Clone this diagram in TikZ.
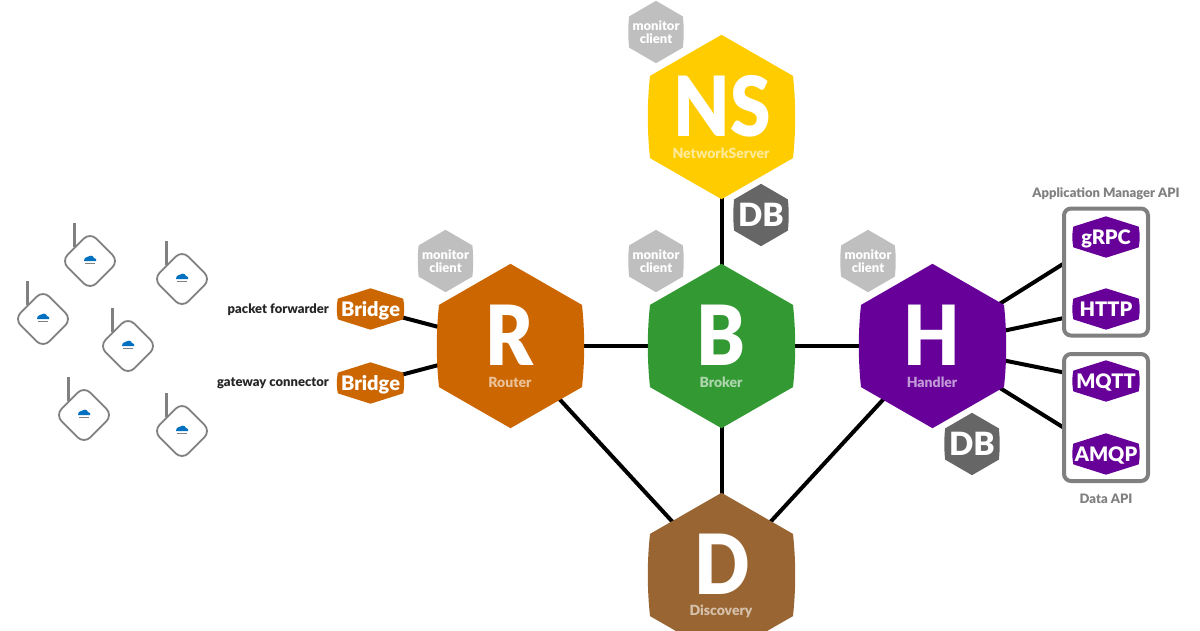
\documentclass[tikz,border=0pt]{standalone}
\usepackage{fontspec}
\setmainfont{Lato}[BoldFont=Lato Black]
\usetikzlibrary{backgrounds}
\definecolor{routerorange}{HTML}{CC6600}
\definecolor{brokergreen}{HTML}{339933}
\definecolor{handlerpurple}{HTML}{660099}
\definecolor{serveryellow}{HTML}{FFCC00}
\definecolor{discobrown}{HTML}{996633}
\definecolor{monitorgray}{HTML}{BFBFBF}
\definecolor{dbgray}{HTML}{666666}
\definecolor{boxgray}{HTML}{808080}
\definecolor{cloudblue}{HTML}{0070C0}
% hexagon with slightly bulging flanks
\newdimen\hexcx \newdimen\hexcy \newdimen\hexhw \newdimen\hexhh
\makeatletter
\pgfdeclareshape{hexa}{
  \inheritsavedanchors[from=rectangle]
  \inheritanchorborder[from=rectangle]
  \inheritanchor[from=rectangle]{center}
  \backgroundpath{
    \northeast \hexcx=\pgf@x \hexcy=\pgf@y
    \southwest
    \hexhw=\dimexpr(\hexcx-\pgf@x)/2\relax
    \hexhh=\dimexpr(\hexcy-\pgf@y)/2\relax
    \advance\hexcx by -\hexhw
    \advance\hexcy by -\hexhh
    \pgfpathmoveto{\pgfpointadd{\pgfqpoint{\hexcx}{\hexcy}}{\pgfqpoint{0pt}{\hexhh}}}
    \pgfpathlineto{\pgfpointadd{\pgfqpoint{\hexcx}{\hexcy}}{\pgfqpoint{0.97\hexhw}{0.5\hexhh}}}
    \pgfpathquadraticcurveto{\pgfpointadd{\pgfqpoint{\hexcx}{\hexcy}}{\pgfqpoint{1.03\hexhw}{0pt}}}{\pgfpointadd{\pgfqpoint{\hexcx}{\hexcy}}{\pgfqpoint{0.97\hexhw}{-0.5\hexhh}}}
    \pgfpathlineto{\pgfpointadd{\pgfqpoint{\hexcx}{\hexcy}}{\pgfqpoint{0pt}{-\hexhh}}}
    \pgfpathlineto{\pgfpointadd{\pgfqpoint{\hexcx}{\hexcy}}{\pgfqpoint{-0.97\hexhw}{-0.5\hexhh}}}
    \pgfpathquadraticcurveto{\pgfpointadd{\pgfqpoint{\hexcx}{\hexcy}}{\pgfqpoint{-1.03\hexhw}{0pt}}}{\pgfpointadd{\pgfqpoint{\hexcx}{\hexcy}}{\pgfqpoint{-0.97\hexhw}{0.5\hexhh}}}
    \pgfpathclose
  }
}
\makeatother
\tikzset{
  hexbase/.style={shape=hexa, inner sep=0pt, text=white, font=\bfseries},
  bighex/.style={hexbase, minimum width=147pt, minimum height=164pt, fill=#1},
  smallhex/.style={hexbase, minimum width=67pt, minimum height=41pt, fill=#1, text height=14pt, text depth=0pt, font=\bfseries\fontsize{20}{20}\selectfont},
  monitorhex/.style={hexbase, minimum width=55pt, minimum height=62pt, fill=monitorgray, align=center, font=\bfseries\fontsize{13}{12.5}\selectfont},
  dbhex/.style={hexbase, minimum width=55pt, minimum height=62pt, fill=dbgray, font=\bfseries\fontsize{32}{32}\selectfont},
  bigletter/.style={inner sep=0pt, text=white, xscale=0.88, transform shape, font=\bfseries\fontsize{#1}{#1}\selectfont},
  sublabel/.style={inner sep=0pt, text=white, text opacity=0.6, font=\bfseries\fontsize{14}{14}\selectfont},
  sidelabel/.style={anchor=east, inner sep=0pt, text=black!85, font=\bfseries\fontsize{13}{13}\selectfont},
  apibox/.style={draw=boxgray, fill=white, line width=4pt, rounded corners=7pt, minimum width=84pt, minimum height=#1, inner sep=0pt},
  apilabel/.style={inner sep=0pt, text=boxgray, font=\bfseries\fontsize{13}{13}\selectfont},
  link/.style={line width=4pt, black},
  gateway/.pic={
    \draw[boxgray, line width=3pt] (-16,-14) -- (-16,-38);
    \draw[boxgray, fill=white, line width=1.8pt, rotate=45, rounded corners=9pt] (-20.3,-20.3) rectangle (20.3,20.3);
    \fill[cloudblue] (-6,0) .. controls (-7,-3) and (-4,-3) .. (-3,-4) .. controls (-1,-6) and (3,-6) .. (4,-3) .. controls (6,-3) and (7,-1) .. (6,0) -- cycle;
    \draw[boxgray, line width=0.7pt] (-5,2.5) -- (5,2.5);
  },
}
\begin{document}
\begin{tikzpicture}[x=1pt, y=-1pt]
  \useasboundingbox (0,0) rectangle (1200,630);
  \clip (0,0) rectangle (1200,630);
  % monitor clients sit behind the big hexagons
  \node[monitorhex] (monNS) at (656,32) {monitor\\client};
  \node[monitorhex] (monR) at (445.5,261) {monitor\\client};
  \node[monitorhex] (monB) at (656,261) {monitor\\client};
  \node[monitorhex] (monH) at (868,261) {monitor\\client};
  % main components
  \node[bighex=serveryellow] (NS) at (721.5,117) {};
  \node[bighex=routerorange] (R) at (510.5,346) {};
  \node[bighex=brokergreen] (B) at (721.5,346) {};
  \node[bighex=handlerpurple] (H) at (932.5,346) {};
  \node[bighex=discobrown] (D) at (721.5,575) {};
  \node[bigletter=83] (NSletter) at (722,106) {NS};
  \node[bigletter=83] (Rletter) at (510,335) {R};
  \node[bigletter=83] (Bletter) at (721,335) {B};
  \node[bigletter=83] (Hletter) at (932,335) {H};
  \node[bigletter=83] (Dletter) at (722,564) {D};
  \node[sublabel] (NSsub) at (721,153) {NetworkServer};
  \node[sublabel] (Rsub) at (510,382) {Router};
  \node[sublabel] (Bsub) at (721,382) {Broker};
  \node[sublabel] (Hsub) at (932,382) {Handler};
  \node[sublabel] (Dsub) at (721,611) {Discovery};
  \node[dbhex] (dbNS) at (761,215) {DB};
  \node[dbhex] (dbH) at (972,444) {DB};
  % bridges
  \node[smallhex=routerorange] (bridgeA) at (370.5,309) {Bridge};
  \node[smallhex=routerorange] (bridgeB) at (370.5,383) {Bridge};
  \node[sidelabel] (pktlabel) at (329,310) {packet forwarder};
  \node[sidelabel] (gwlabel) at (329,383.5) {gateway connector};
  % api boxes
  \node[apibox=127pt] (appbox) at (1106,272) {};
  \node[apibox=127pt] (databox) at (1106,417.5) {};
  \node[smallhex=handlerpurple] (grpc) at (1106,237) {gRPC};
  \node[smallhex=handlerpurple] (http) at (1106,309) {HTTP};
  \node[smallhex=handlerpurple] (mqtt) at (1106,381) {MQTT};
  \node[smallhex=handlerpurple] (amqp) at (1106,454) {AMQP};
  \node[apilabel] (applabel) at (1106,194) {Application Manager API};
  \node[apilabel] (datalabel) at (1106,499) {Data API};
  % gateways on the left
  \foreach \gx/\gy in {90/261, 182/279, 43/319, 128/346, 84/415, 182/431}
    \pic at (\gx,\gy) {gateway};
  % links go underneath everything
  \begin{scope}[on background layer]
    \draw[link] (NS.center) -- (B.center);
    \draw[link] (R.center) -- (B.center);
    \draw[link] (B.center) -- (H.center);
    \draw[link] (B.center) -- (D.center);
    \draw[link] (R.center) -- (D.center);
    \draw[link] (H.center) -- (D.center);
    \draw[link] (bridgeA.center) -- (R.center);
    \draw[link] (bridgeB.center) -- (R.center);
    \draw[link] (H.center) -- (grpc.center);
    \draw[link] (H.center) -- (http.center);
    \draw[link] (H.center) -- (mqtt.center);
    \draw[link] (H.center) -- (amqp.center);
  \end{scope}
\end{tikzpicture}
\end{document}
